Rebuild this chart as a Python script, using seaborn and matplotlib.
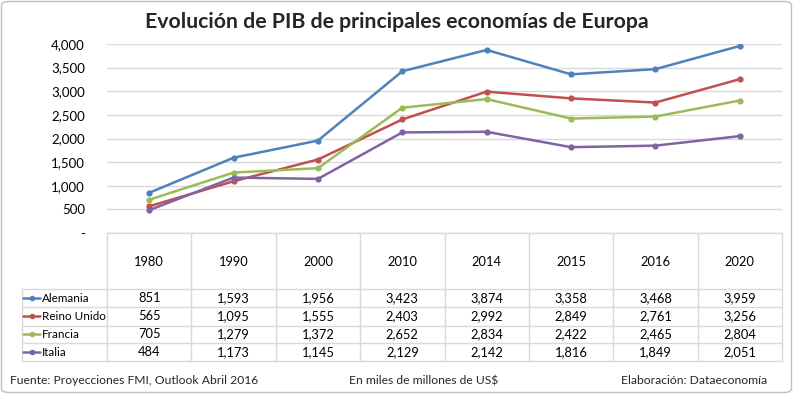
import pandas as pd
import matplotlib.pyplot as plt
import seaborn as sns
from matplotlib.patches import FancyBboxPatch
from matplotlib.ticker import FuncFormatter

years = ["1980", "1990", "2000", "2010", "2014", "2015", "2016", "2020"]
countries = ["Alemania", "Reino Unido", "Francia", "Italia"]
alemania = [851, 1593, 1956, 3423, 3874, 3358, 3468, 3959]
reino_unido = [565, 1095, 1555, 2403, 2992, 2849, 2761, 3256]
francia = [705, 1279, 1372, 2652, 2834, 2422, 2465, 2804]
italia = [484, 1173, 1145, 2129, 2142, 1816, 1849, 2051]
colors = ["#4F81BD", "#C0504D", "#9BBB59", "#8064A2"]

series = [alemania, reino_unido, francia, italia]
df = pd.DataFrame([
    {"year": y, "country": c, "value": v}
    for c, vals in zip(countries, series)
    for y, v in zip(years, vals)
])

sns.set_theme(style="white")
plt.rcParams["font.family"] = ["Lato", "DejaVu Sans"]

W, H = 793, 394
fig = plt.figure(figsize=(W / 100, H / 100), dpi=100)


def box(l, t, r, b):
    return [l / W, 1 - b / H, (r - l) / W, (b - t) / H]


grid_c = "#D9D9D9"
text_c = "#000000"
fs = 9.3

# main line chart
ax = fig.add_axes(box(107, 44, 782, 233))
sns.lineplot(data=df, x="year", y="value", hue="country", palette=colors,
             marker="o", markersize=4.5, markeredgewidth=0, linewidth=1.8,
             legend=False, ax=ax)
ax.set_xlim(-0.5, len(years) - 0.5)
ax.set_ylim(0, 4000)
ax.set_yticks(range(0, 4001, 500))
ax.yaxis.set_major_formatter(FuncFormatter(lambda v, p: "-" if v == 0 else f"{v:,.0f}"))
ax.tick_params(axis="y", length=0, pad=16, labelsize=9.5, labelcolor=text_c)
ax.set_xticks([])
ax.set_xlabel("")
ax.set_ylabel("")
ax.grid(axis="y", color=grid_c, linewidth=1)
for s in ax.spines.values():
    s.set_visible(False)

fig.text(0.5, 1 - 22 / H, "Evolución de PIB de principales economías de Europa",
         ha="center", va="center", fontsize=15.3, fontweight="bold")

# data table below the chart (y in pixel rows, downward)
tab = fig.add_axes(box(107, 233, 782, 361))
tab.set_xlim(-0.5, len(years) - 0.5)
tab.set_ylim(128, 0)
tab.axis("off")
row_edges = [56.3, 74.3, 92.5, 110.3, 128]
lx = -0.5 - 85 / 84.4
for i in range(len(years) + 1):
    tab.plot([i - 0.5, i - 0.5], [0, 128], color=grid_c, lw=1, clip_on=False)
tab.plot([lx, lx], [row_edges[0], 128], color=grid_c, lw=1, clip_on=False)
tab.plot([-0.5, len(years) - 0.5], [0, 0], color=grid_c, lw=1, clip_on=False)
for e in row_edges:
    tab.plot([lx, len(years) - 0.5], [e, e], color=grid_c, lw=1, clip_on=False)

for i, y in enumerate(years):
    tab.text(i, 28.5, y, ha="center", va="center", fontsize=fs, color=text_c)

for r, (c, vals, col) in enumerate(zip(countries, series, colors)):
    yc = (row_edges[r] + row_edges[r + 1]) / 2
    for i, v in enumerate(vals):
        tab.text(i, yc, f"{v:,}", ha="center", va="center", fontsize=fs, color=text_c)
    x0 = lx + 1 / 84.4
    x1 = lx + 18 / 84.4
    tab.plot([x0, x1], [yc, yc], color=col, lw=1.8, clip_on=False)
    tab.plot([(x0 + x1) / 2], [yc], "o", color=col, ms=4, mew=0, clip_on=False)
    tab.text(x1 + 1.5 / 84.4, yc, c, ha="left", va="center", fontsize=8.4, color=text_c)

# footer
fy = 1 - 381 / H
fig.text(10 / W, fy, "Fuente: Proyecciones FMI, Outlook Abril 2016", ha="left", va="center", fontsize=8.7)
fig.text(424 / W, fy, r"En miles de millones de US\$", ha="center", va="center", fontsize=8.7)
fig.text(767 / W, fy, "Elaboración: Dataeconomía", ha="right", va="center", fontsize=8.7)

# outer border
fig.patches.append(FancyBboxPatch((1.5 / W, 1.5 / H), 1 - 3 / W, 1 - 3 / H,
                                  boxstyle="round,pad=0,rounding_size=0.01",
                                  transform=fig.transFigure, fill=False,
                                  edgecolor="#BFBFBF", linewidth=1))

fig.savefig("out.png", dpi=100)
